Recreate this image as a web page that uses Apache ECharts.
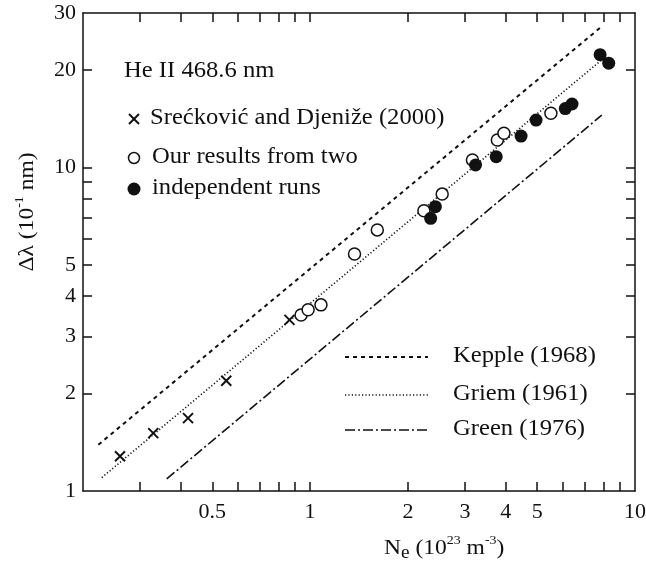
<!DOCTYPE html>
<html>
<head>
<meta charset="utf-8">
<script src="https://cdn.jsdelivr.net/npm/echarts@6/dist/echarts.min.js"></script>
<style>
  html, body { margin: 0; padding: 0; background: #fff; }
  #chart { width: 646px; height: 565px; }
</style>
</head>
<body>
<div id="chart"></div>
<script>
// values: Ne in 10^23 m^-3, width in 10^-1 nm
const sreckovic = [[0.260, 1.28], [0.329, 1.51], [0.421, 1.68], [0.552, 2.19], [0.864, 3.38]];
const oursOpen = [[0.938, 3.50], [0.986, 3.63], [1.08, 3.76], [1.37, 5.4], [1.61, 6.41], [2.24, 7.35],
  [2.55, 8.27], [3.16, 10.54], [3.77, 12.16], [3.95, 12.75], [5.51, 14.7]];
const oursFilled = [[2.35, 6.96], [2.43, 7.56], [3.23, 10.17], [3.74, 10.79], [4.46, 12.5], [4.96, 14.0],
  [6.10, 15.2], [6.40, 15.7], [7.81, 22.3], [8.30, 21.0]];
const kepple = [[0.223, 1.39], [7.81, 27.0]];
const griem = [[0.2285, 1.10], [7.9, 21.5]];
const green = [[0.362, 1.09], [7.9, 14.5]];

const xTickValues = [0.3, 0.4, 0.5, 0.6, 0.7, 0.8, 0.9, 1, 2, 3, 4, 5, 6, 7, 8, 9];
const xLabelValues = [0.5, 1, 2, 3, 4, 5, 10];
const yTickValues = [2, 3, 4, 5, 6, 7, 8, 9, 10, 20];
const yLabelValues = [1, 2, 3, 4, 5, 10, 20, 30];

const FONT = 'Liberation Serif';
const TXT = '23px ' + FONT;
const SX = 1.07; // the scanned lettering is a bit wider than Times
const dashKepple = [4, 4];
const dashGriem = [1.2, 2.2];
const dashGreen = [10, 3, 2, 3];

const chart = echarts.init(document.getElementById('chart'), null, { renderer: 'canvas' });

function axisBase(ticks, labels, showLabel) {
  return {
    type: 'log',
    logBase: 10,
    axisLine: { show: true, lineStyle: { color: '#111', width: 1.5 } },
    axisTick: { show: true, inside: true, length: 9, customValues: ticks, lineStyle: { color: '#111', width: 1.5 } },
    minorTick: { show: false },
    splitLine: { show: false },
    axisLabel: {
      show: showLabel,
      customValues: labels,
      fontFamily: FONT,
      fontSize: 22,
      color: '#111',
      formatter: v => String(+(+v).toPrecision(3))
    }
  };
}

function lineSeries(name, data, dash, width) {
  return {
    name, type: 'line', data, symbol: 'none', silent: true, z: 2,
    lineStyle: { color: '#111', width, type: dash }
  };
}

function label(text, left, top) {
  return { type: 'text', left, top, scaleX: SX, style: { text, font: TXT, fill: '#111' } };
}

const legendLines = [
  { y: 357, dash: dashKepple, width: 2, text: 'Kepple (1968)' },
  { y: 395, dash: dashGriem, width: 1.6, text: 'Griem (1961)' },
  { y: 430, dash: dashGreen, width: 1.6, text: 'Green (1976)' }
];

const graphics = [
  label('He II 468.6 nm', 124, 59),
  { type: 'line', shape: { x1: 129, y1: 114, x2: 139, y2: 124 }, style: { stroke: '#111', lineWidth: 2 } },
  { type: 'line', shape: { x1: 139, y1: 114, x2: 129, y2: 124 }, style: { stroke: '#111', lineWidth: 2 } },
  label('Srećković and Djeniže (2000)', 150, 106),
  { type: 'circle', shape: { cx: 134, cy: 158, r: 5.5 }, style: { fill: '#fff', stroke: '#111', lineWidth: 1.5 } },
  label('Our results from two', 152, 145),
  { type: 'circle', shape: { cx: 134, cy: 189, r: 6.5 }, style: { fill: '#111' } },
  label('independent runs', 152, 176),
  {
    type: 'text', left: 384, top: 534, scaleX: SX,
    style: {
      text: '{b|N}{sub|e}{b| (10}{sup|23}{b| m}{sup|-3}{b|)}',
      rich: {
        b: { fontFamily: FONT, fontSize: 22, fill: '#111', lineHeight: 28, verticalAlign: 'middle' },
        sub: { fontFamily: FONT, fontSize: 18, fill: '#111', lineHeight: 28, verticalAlign: 'bottom' },
        sup: { fontFamily: FONT, fontSize: 13, fill: '#111', lineHeight: 28, verticalAlign: 'top' }
      }
    }
  },
  {
    type: 'text', x: 27, y: 212, rotation: Math.PI / 2, scaleX: SX,
    style: {
      text: '{b|Δλ (10}{sup|-1}{b| nm)}',
      align: 'center', verticalAlign: 'middle',
      rich: {
        b: { fontFamily: FONT, fontSize: 22, fill: '#111', lineHeight: 28, verticalAlign: 'middle' },
        sup: { fontFamily: FONT, fontSize: 13, fill: '#111', lineHeight: 28, verticalAlign: 'top' }
      }
    }
  }
];
legendLines.forEach(l => {
  graphics.push({ type: 'line', shape: { x1: 345, y1: l.y, x2: 428, y2: l.y },
    style: { stroke: '#111', lineWidth: l.width, lineDash: l.dash } });
  graphics.push(label(l.text, 453, l.y - 13));
});

const xBottom = Object.assign(axisBase(xTickValues, xLabelValues, true), { position: 'bottom', min: 0.2, max: 10 });
xBottom.axisLabel.margin = 10;
const xTop = Object.assign(axisBase(xTickValues, xLabelValues, false), { position: 'top', min: 0.2, max: 10 });
const yLeft = Object.assign(axisBase(yTickValues, yLabelValues, true), { position: 'left', min: 1, max: 30 });
yLeft.axisLabel.margin = 7;
const yRight = Object.assign(axisBase(yTickValues, yLabelValues, false), { position: 'right', min: 1, max: 30 });

chart.setOption({
  animation: false,
  backgroundColor: '#fff',
  grid: { left: 83, top: 13, width: 552, height: 478, outerBoundsMode: 'none', containLabel: false },
  xAxis: [xBottom, xTop],
  yAxis: [yLeft, yRight],
  graphic: graphics,
  series: [
    lineSeries('Kepple (1968)', kepple, dashKepple, 2),
    lineSeries('Griem (1961)', griem, dashGriem, 1.6),
    lineSeries('Green (1976)', green, dashGreen, 1.6),
    {
      name: 'Srećković and Djeniže (2000)', type: 'scatter', data: sreckovic, z: 3,
      symbol: 'path://M0,0L10,10M10,0L0,10', symbolSize: 10,
      itemStyle: { color: 'rgba(0,0,0,0)', borderColor: '#111', borderWidth: 2, opacity: 1 }
    },
    {
      name: 'Our results (open)', type: 'scatter', data: oursOpen, z: 3,
      symbol: 'circle', symbolSize: 12,
      itemStyle: { color: '#fff', borderColor: '#111', borderWidth: 1.5, opacity: 1 }
    },
    {
      name: 'Our results (filled)', type: 'scatter', data: oursFilled, z: 4,
      symbol: 'circle', symbolSize: 13,
      itemStyle: { color: '#111', opacity: 1 }
    }
  ]
});
</script>
</body>
</html>
